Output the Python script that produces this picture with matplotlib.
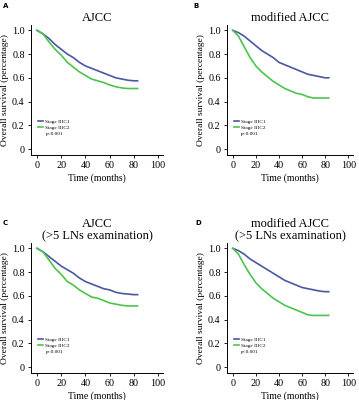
import matplotlib
matplotlib.use("Agg")
import matplotlib.pyplot as plt

plt.rcParams['font.family'] = ['Liberation Serif', 'DejaVu Serif']

months = [0, 5, 10, 15, 20, 25, 30, 35, 40, 45, 50, 55, 60, 65, 70, 75, 80, 83]

# survival curves
a_c1 = [1.0, 0.97, 0.93, 0.88, 0.84, 0.80, 0.77, 0.73, 0.70, 0.68, 0.66, 0.64, 0.62, 0.60, 0.59, 0.58, 0.575, 0.575]
a_c2 = [1.0, 0.97, 0.90, 0.84, 0.79, 0.73, 0.69, 0.65, 0.62, 0.59, 0.575, 0.56, 0.54, 0.525, 0.515, 0.51, 0.51, 0.51]
b_c1 = [1.0, 0.98, 0.95, 0.91, 0.87, 0.83, 0.80, 0.77, 0.73, 0.71, 0.69, 0.67, 0.65, 0.63, 0.62, 0.61, 0.60, 0.60]
b_c2 = [1.0, 0.95, 0.86, 0.77, 0.70, 0.65, 0.61, 0.57, 0.54, 0.51, 0.49, 0.47, 0.46, 0.44, 0.43, 0.43, 0.43, 0.43]
c_c1 = [1.0, 0.97, 0.93, 0.89, 0.85, 0.82, 0.79, 0.75, 0.72, 0.70, 0.68, 0.66, 0.65, 0.63, 0.62, 0.615, 0.61, 0.61]
c_c2 = [1.0, 0.97, 0.90, 0.83, 0.78, 0.72, 0.69, 0.65, 0.62, 0.59, 0.58, 0.56, 0.54, 0.53, 0.52, 0.515, 0.515, 0.515]
d_c1 = [1.0, 0.98, 0.95, 0.91, 0.88, 0.85, 0.82, 0.79, 0.76, 0.73, 0.71, 0.69, 0.67, 0.66, 0.65, 0.64, 0.635, 0.635]
d_c2 = [1.0, 0.95, 0.86, 0.78, 0.71, 0.66, 0.62, 0.58, 0.55, 0.52, 0.50, 0.48, 0.46, 0.44, 0.435, 0.435, 0.435, 0.435]

series_names = ['Stage IIIC1', 'Stage IIIC2']
panel_letters = ['A', 'B', 'C', 'D']
titles = ['AJCC', 'modified AJCC', 'AJCC\n(>5 LNs examination)', 'modified AJCC\n(>5 LNs examination)']
pvals = ['p<0.001', 'p<0.001', 'p<0.001', 'p<0.001']
curves = [(a_c1, a_c2), (b_c1, b_c2), (c_c1, c_c2), (d_c1, d_c2)]

blue = '#4a56a6'
green = '#4cc44c'

W, H = 359, 400
fig = plt.figure(figsize=(W / 100, H / 100), dpi=100)

# axes boxes in pixels: left, top, right, bottom
boxes = [(31, 25, 163, 155), (227, 25, 353, 155), (31, 243, 163, 373), (227, 243, 353, 373)]
letter_pos = [(3, 6), (193, 6), (3, 223), (195, 223)]

for i in range(4):
    l, t, r, b = boxes[i]
    ax = fig.add_axes([l / W, 1 - b / H, (r - l) / W, (b - t) / H])
    y1, y2 = curves[i]
    ax.plot(months, y1, color=blue, lw=1.2, label=series_names[0])
    ax.plot(months, y2, color=green, lw=1.2, label=series_names[1])
    ax.set_xlim(-5, 104)
    ax.set_ylim(-0.05, 1.045)
    ax.set_xticks([0, 20, 40, 60, 80, 100])
    ax.set_yticks([0, 0.2, 0.4, 0.6, 0.8, 1.0])
    ax.set_yticklabels(['0', '0.2', '0.4', '0.6', '0.8', '1.0'])
    ax.tick_params(labelsize=7.3, length=2.5, width=0.6, pad=2)
    for s in ['top', 'right']:
        ax.spines[s].set_visible(False)
    for s in ['left', 'bottom']:
        ax.spines[s].set_linewidth(0.7)
    ax.set_xlabel('Time (months)', fontsize=7, labelpad=2)
    ax.set_ylabel('Overall survival (percentage)', fontsize=6.8, labelpad=2)
    ax.set_title(titles[i], fontsize=9, pad=3, linespacing=1.0)
    leg = ax.legend(loc='lower left', bbox_to_anchor=(0.035, 0.175), fontsize=3.8, frameon=False,
                    handlelength=0.9, handletextpad=0.4, labelspacing=0.25, borderpad=0)
    ax.text(0.11, 0.16, pvals[i], transform=ax.transAxes, fontsize=3.8, va='center')
    fig.text(letter_pos[i][0] / W, 1 - letter_pos[i][1] / H, panel_letters[i], fontsize=5,
             fontweight='bold', family='DejaVu Sans', va='center')

fig.savefig('out.png', dpi=100)
